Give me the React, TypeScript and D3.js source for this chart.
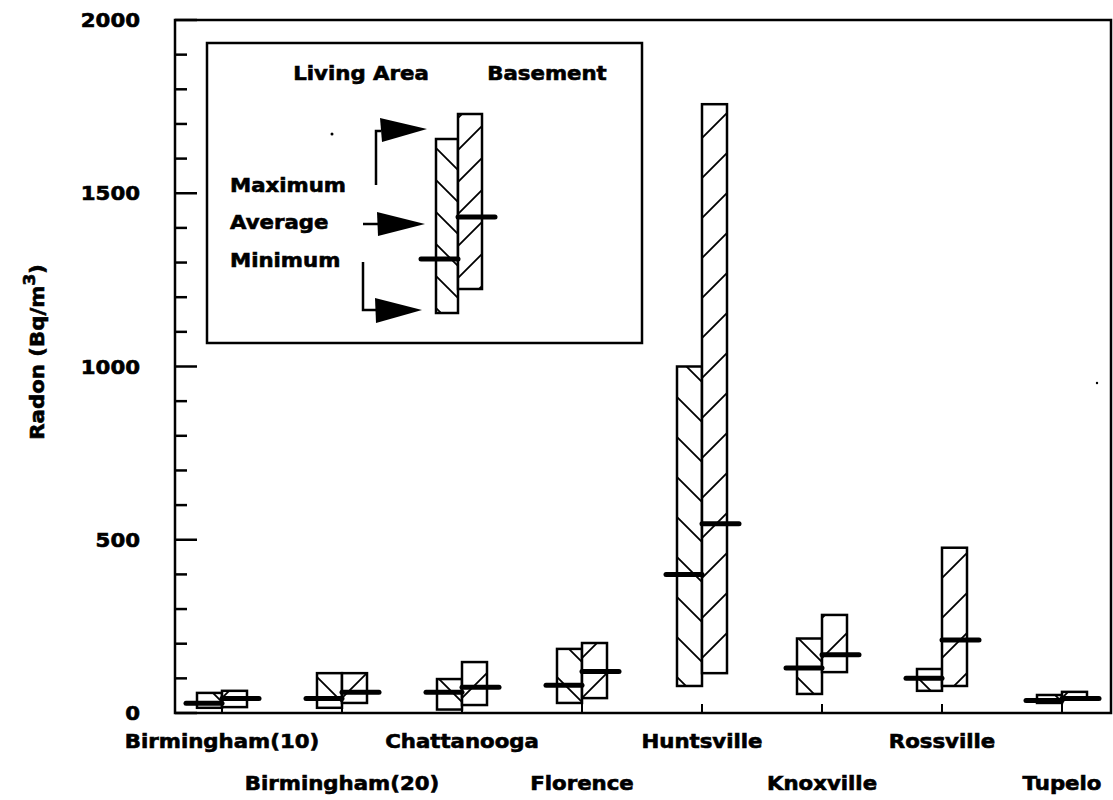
import React from "react";
import * as d3 from "d3";

const categories = ["Birmingham(10)", "Birmingham(20)", "Chattanooga", "Florence", "Huntsville", "Knoxville", "Rossville", "Tupelo"];
const livingMin = [15, 15, 10, 29, 78, 55, 64, 29];
const livingMax = [58, 115, 98, 185, 1000, 215, 127, 52];
const livingAvg = [28, 42, 60, 80, 400, 130, 100, 36];
const basementMin = [17, 29, 23, 43, 115, 118, 78, 43];
const basementMax = [64, 115, 147, 202, 1757, 283, 477, 61];
const basementAvg = [42, 60, 74, 120, 546, 168, 211, 42];
const yTickLabels = [0, 500, 1000, 1500, 2000];
const legendSeries = ["Living Area", "Basement"];
const legendLabels = ["Maximum", "Average", "Minimum"];

const W = 1113, H = 800;
const FONT = "'DejaVu Sans', sans-serif";
const SX = 1.12;

function T({ x, y, anchor = "middle", children, size = 19, rotate = 0 }: any) {
  return (
    <g transform={`translate(${x},${y}) rotate(${rotate}) scale(${SX},1)`}>
      <text textAnchor={anchor} fontFamily={FONT} fontWeight="bold" fontSize={size} fill="#000" stroke="#000" strokeWidth={0.6}>
        {children}
      </text>
    </g>
  );
}

export default function App() {
  const left = 175, right = 1111, top = 20, bottom = 713;
  const y = d3.scaleLinear().domain([0, 2000]).range([bottom, top]);
  const x = d3.scalePoint<string>().domain(categories).range([222, 1062]);
  const bw = 25;
  const ticks = d3.range(0, 2001, 100);

  return (
    <svg width={W} height={H} style={{ position: "absolute", left: 0, top: 0, background: "#fff" }}>
      <defs>
        <pattern id="hL" patternUnits="userSpaceOnUse" width={40} height={40}>
          <path d="M0,0L40,40M-10,30L10,50M30,-10L50,10" stroke="#000" strokeWidth={1.8} />
        </pattern>
        <pattern id="hB" patternUnits="userSpaceOnUse" width={40} height={40}>
          <path d="M0,40L40,0M-10,10L10,-10M30,50L50,30" stroke="#000" strokeWidth={1.8} />
        </pattern>
        <pattern id="lhL" patternUnits="userSpaceOnUse" width={32} height={32}>
          <path d="M0,0L32,32M-8,24L8,40M24,-8L40,8" stroke="#000" strokeWidth={1.8} />
        </pattern>
        <pattern id="lhB" patternUnits="userSpaceOnUse" width={32} height={32}>
          <path d="M0,32L32,0M-8,8L8,-8M24,40L40,24" stroke="#000" strokeWidth={1.8} />
        </pattern>
      </defs>

      {/* frame */}
      <rect x={left} y={top} width={right - left} height={bottom - top} fill="none" stroke="#000" strokeWidth={2.5} />

      {/* y ticks */}
      {ticks.map((t) => (
        <line key={t} x1={left} x2={left + (t % 500 === 0 ? 22 : 12)} y1={y(t)} y2={y(t)} stroke="#000" strokeWidth={2.5} />
      ))}
      {yTickLabels.map((t) => (
        <T key={t} x={140} y={y(t) + 7} anchor="end">{t}</T>
      ))}

      {/* x ticks */}
      {categories.map((c) => (
        <line key={c} x1={x(c)} x2={x(c)} y1={bottom} y2={bottom - 9} stroke="#000" strokeWidth={2} />
      ))}
      {categories.map((c, i) => (
        <T key={c} x={x(c)!} y={i % 2 === 0 ? 748 : 790}>{c}</T>
      ))}

      {/* y title */}
      <g transform={`translate(44,352) rotate(-90) scale(${SX},1)`}>
        <text textAnchor="middle" fontFamily={FONT} fontWeight="bold" fontSize={19} stroke="#000" strokeWidth={0.6}>
          Radon (Bq/m<tspan fontSize={15} dy={-9}>3</tspan><tspan dy={9}>)</tspan>
        </text>
      </g>

      {/* bars */}
      {categories.map((c, i) => {
        const cx = x(c)!;
        return (
          <g key={c}>
            <rect x={cx - bw} y={y(livingMax[i])} width={bw} height={y(livingMin[i]) - y(livingMax[i])} fill="#fff" />
            <rect x={cx - bw} y={y(livingMax[i])} width={bw} height={y(livingMin[i]) - y(livingMax[i])} fill="url(#hL)" stroke="#000" strokeWidth={2.5} />
            <rect x={cx} y={y(basementMax[i])} width={bw} height={y(basementMin[i]) - y(basementMax[i])} fill="#fff" />
            <rect x={cx} y={y(basementMax[i])} width={bw} height={y(basementMin[i]) - y(basementMax[i])} fill="url(#hB)" stroke="#000" strokeWidth={2.5} />
          </g>
        );
      })}
      {categories.map((c, i) => {
        const cx = x(c)!;
        return (
          <g key={c + "a"}>
            <line x1={cx - 36} x2={cx} y1={y(livingAvg[i])} y2={y(livingAvg[i])} stroke="#000" strokeWidth={5} strokeLinecap="round" />
            <line x1={cx} x2={cx + 37} y1={y(basementAvg[i])} y2={y(basementAvg[i])} stroke="#000" strokeWidth={5} strokeLinecap="round" />
          </g>
        );
      })}

      {/* legend */}
      <rect x={207} y={43} width={435} height={300} fill="#fff" stroke="#000" strokeWidth={2.5} />
      <T x={361} y={80}>{legendSeries[0]}</T>
      <T x={547} y={80}>{legendSeries[1]}</T>
      {legendLabels.map((l, i) => (
        <T key={l} x={230} y={[192, 229, 267][i]} anchor="start">{l}</T>
      ))}
      <rect x={436} y={139} width={22} height={174} fill="url(#lhL)" stroke="#000" strokeWidth={2.5} />
      <rect x={458} y={114} width={24} height={175} fill="#fff" />
      <rect x={458} y={114} width={24} height={175} fill="url(#lhB)" stroke="#000" strokeWidth={2.5} />
      <line x1={421} x2={458} y1={259} y2={259} stroke="#000" strokeWidth={5} strokeLinecap="round" />
      <line x1={458} x2={495} y1={217} y2={217} stroke="#000" strokeWidth={5} strokeLinecap="round" />
      {/* arrows */}
      <path d="M376,185V131H381" fill="none" stroke="#000" strokeWidth={2.5} />
      <path d="M380,118L382,142L427,129Z" fill="#000" />
      <path d="M363,224H378" fill="none" stroke="#000" strokeWidth={2.5} />
      <path d="M377,212L378,236L425,224Z" fill="#000" />
      <path d="M363,262V310H376" fill="none" stroke="#000" strokeWidth={2.5} />
      <path d="M375,298L376,323L422,310Z" fill="#000" />
      <circle cx={332} cy={134} r={1.5} fill="#000" />
      <circle cx={1097} cy={383} r={1.2} fill="#000" />
    </svg>
  );
}
